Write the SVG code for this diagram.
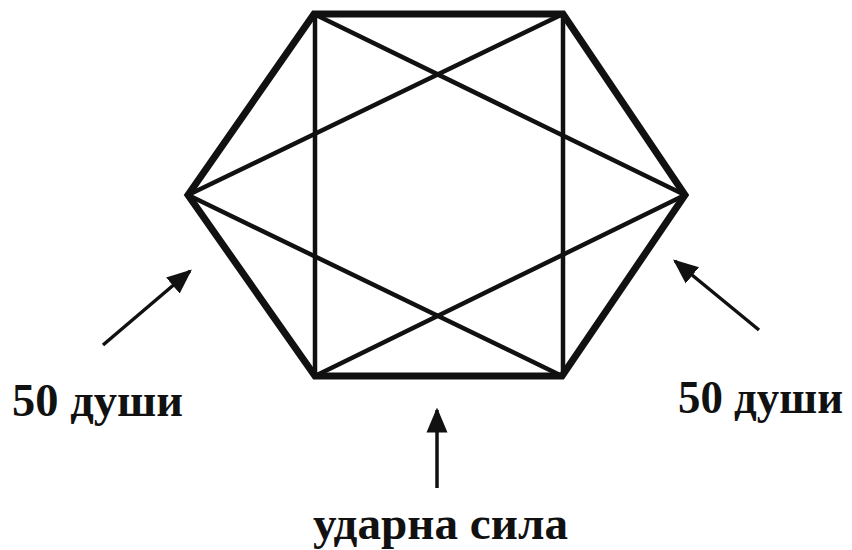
<svg xmlns="http://www.w3.org/2000/svg" width="852" height="550" viewBox="0 0 852 550">
<defs>
<style>
.hex{fill:none;stroke:#111;stroke-width:7;stroke-linejoin:miter}
.inner{stroke:#111;stroke-width:4.5;fill:none;stroke-linecap:round}
.arr{stroke:#111;stroke-width:3.5;fill:none}
.lbl{font-family:"Liberation Serif","DejaVu Serif",serif;font-weight:bold;font-size:47px;fill:#111}
</style>
<marker id="ah2" viewBox="0 0 10 10" refX="9" refY="5" markerWidth="25" markerHeight="25" markerUnits="userSpaceOnUse" orient="auto">
<path d="M0,0.8 L10,5 L0,9.2 z" fill="#111"/>
</marker>
</defs>
<g id="hexagon">
<polygon class="hex" points="314,14 563,14 685,195 562,376 315,376 188,195"/>
</g>
<g id="inner-lines">
<line class="inner" x1="315" y1="14" x2="315" y2="376"/>
<line class="inner" x1="563" y1="14" x2="563" y2="376"/>
<line class="inner" x1="314" y1="14" x2="685" y2="195"/>
<line class="inner" x1="563" y1="14" x2="188" y2="195"/>
<line class="inner" x1="188" y1="195" x2="562" y2="376"/>
<line class="inner" x1="685" y1="195" x2="315" y2="376"/>
</g>
<g id="connectors">
<line class="arr" x1="103" y1="345" x2="190" y2="271" marker-end="url(#ah2)"/>
<line class="arr" x1="759" y1="330" x2="675" y2="261" marker-end="url(#ah2)"/>
<line class="arr" x1="437" y1="488" x2="437" y2="410" marker-end="url(#ah2)"/>
</g>
<g id="label-left">
<text class="lbl" x="12" y="416" textLength="171" lengthAdjust="spacingAndGlyphs">50 души</text>
</g>
<g id="label-right">
<text class="lbl" x="678" y="413" textLength="165" lengthAdjust="spacingAndGlyphs">50 души</text>
</g>
<g id="label-bottom">
<text class="lbl" x="313" y="539" textLength="255" lengthAdjust="spacingAndGlyphs">ударна сила</text>
</g>
</svg>
